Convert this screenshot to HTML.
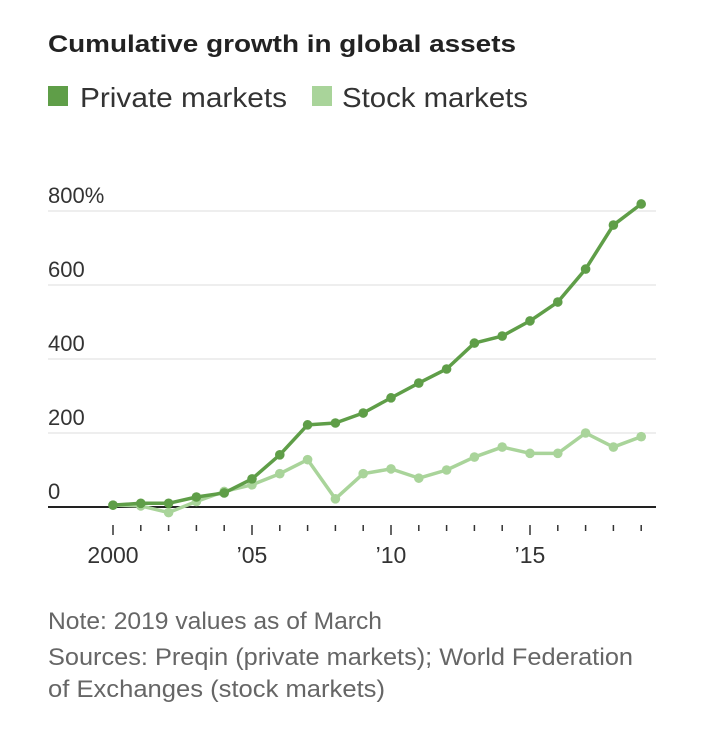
<!DOCTYPE html>
<html><head><meta charset="utf-8"><style>
body{margin:0;background:#fff;width:706px;height:724px;overflow:hidden;font-family:"Liberation Sans",sans-serif;}
</style></head><body>
<svg width="706" height="724" xmlns="http://www.w3.org/2000/svg">
<text x="48" y="52" font-size="24" font-weight="bold" fill="#222" textLength="468" lengthAdjust="spacingAndGlyphs">Cumulative growth in global assets</text>
<rect x="48" y="86" width="20" height="20" fill="#5f9e48"/>
<text x="80" y="107" font-size="28" fill="#333" textLength="207" lengthAdjust="spacingAndGlyphs">Private markets</text>
<rect x="312" y="86" width="20" height="20" fill="#a9d49a"/>
<text x="342" y="107" font-size="28" fill="#333" textLength="186" lengthAdjust="spacingAndGlyphs">Stock markets</text>
<g id="plot"></g>
<text x="48" y="629" font-size="24" fill="#666" textLength="334" lengthAdjust="spacingAndGlyphs">Note: 2019 values as of March</text>
<text x="48" y="665" font-size="24" fill="#666" textLength="585" lengthAdjust="spacingAndGlyphs">Sources: Preqin (private markets); World Federation</text>
<text x="48" y="697" font-size="24" fill="#666" textLength="337" lengthAdjust="spacingAndGlyphs">of Exchanges (stock markets)</text>
</svg>
<script>
const years=[2000,2001,2002,2003,2004,2005,2006,2007,2008,2009,2010,2011,2012,2013,2014,2015,2016,2017,2018,2019];
const privateVals=[5,10,10,27,38,76,141,222,227,254,295,335,373,443,462,503,554,643,762,819];
const stockVals=[5,3,-15,15,42,60,90,128,22,90,103,78,100,135,162,145,145,200,162,190];
const yTicks=[0,200,400,600,800];
const yTickLabels=["0","200","400","600","800%"];
const xLabelYears=[2000,2005,2010,2015];
const xLabels=["2000","\u201905","\u201910","\u201915"];
const NS="http://www.w3.org/2000/svg";
const g=document.getElementById('plot');
const x=v=>113+(v-2000)*27.8;
const y=v=>507-v*0.37;
function mk(t,a){const e=document.createElementNS(NS,t);for(const k in a)e.setAttribute(k,a[k]);g.appendChild(e);return e;}
yTicks.forEach((t,i)=>{
  const l=mk('line',{x1:48,x2:656,y1:y(t),y2:y(t),stroke:t===0?'#222':'#ddd','stroke-width':t===0?2:1});
  
  
  const tx=mk('text',{x:48,y:y(t)-8,'font-size':22,fill:'#333'});
  tx.textContent=yTickLabels[i];
  
  
});
years.forEach(yr=>{
  const major=(yr%5===0);
  const tk=mk('line',{x1:x(yr),x2:x(yr),y1:525,y2:major?535:531,stroke:'#333','stroke-width':1.5});
  
  
});
xLabelYears.forEach((yr,i)=>{
  const tx=mk('text',{x:x(yr),y:563,'font-size':23,fill:'#333','text-anchor':'middle'});
  tx.textContent=xLabels[i];
  
  
});
function series(vals,color,name){
  const p=mk('polyline',{points:vals.map((v,i)=>x(years[i])+','+y(v)).join(' '),fill:'none',stroke:color,'stroke-width':3.5,'stroke-linejoin':'round'});
  
  
  vals.forEach((v,i)=>{
    const c=mk('circle',{cx:x(years[i]),cy:y(v),r:4.8,fill:color});
    
    
  });
}
series(stockVals,'#a9d49a','stock');
series(privateVals,'#5f9e48','private');
</script>
</body></html>
